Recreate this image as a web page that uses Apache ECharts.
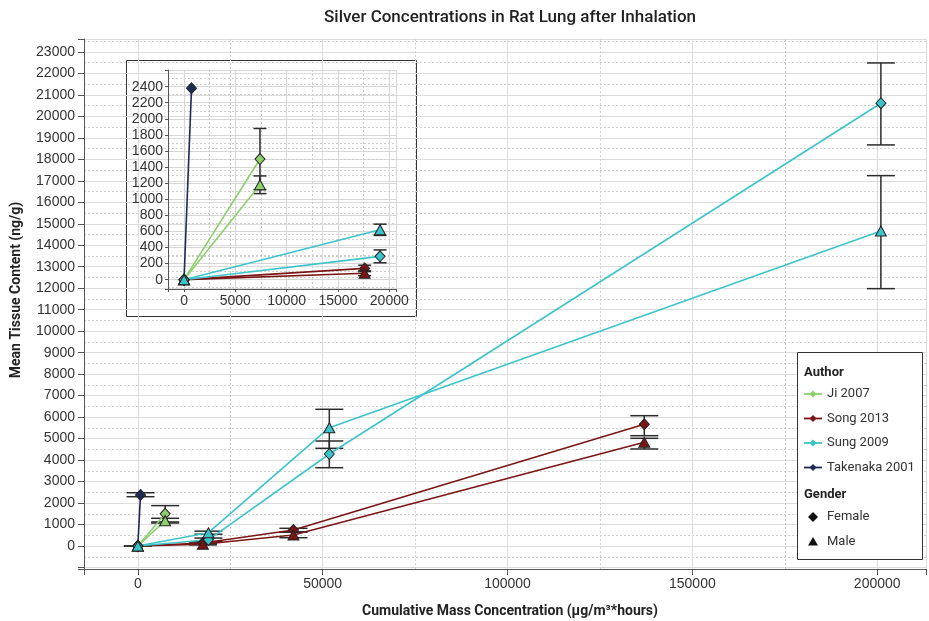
<!DOCTYPE html>
<html>
<head>
<meta charset="utf-8">
<script src="https://cdn.jsdelivr.net/npm/echarts@6/dist/echarts.min.js"></script>
<style>html,body{margin:0;padding:0;background:#fff}#c{width:929px;height:621px}</style>
</head>
<body>
<div id="c"></div>
<script>
// ---- data (x = cumulative mass concentration, y = mean tissue content) ----
const authors = ['Ji 2007', 'Song 2013', 'Sung 2009', 'Takenaka 2001'];
const genders = ['Female', 'Male'];
const takenakaFemale = [[0, 0], [730, 2380]];
const jiFemale = [[0, 0], [7400, 1500]];
const jiMale = [[0, 0], [7400, 1180]];
const songFemale = [[0, 0], [17600, 140], [42100, 745], [137000, 5665]];
const songMale = [[0, 0], [17600, 80], [42100, 512], [137000, 4827]];
const sungFemale = [[0, 0], [19100, 290], [51800, 4283], [201000, 20610]];
const sungMale = [[0, 0], [19100, 620], [51800, 5507], [201000, 14665]];
// error bars: [x, low, high]
const takenakaErr = [[730, 2295, 2480]];
const jiErr = [[7400, 1120, 1880], [7400, 1070, 1290]];
const songErr = [[17600, 100, 180], [17600, 50, 110], [42100, 660, 824], [42100, 386, 640], [137000, 5135, 6066], [137000, 4516, 5013]];
const sungErr = [[0, 0, 0], [19100, 210, 370], [19100, 550, 690], [51800, 3645, 4888], [51800, 4548, 6364], [201000, 18670, 22486], [201000, 11980, 17240]];
const mainYTicks = [0, 1000, 23000];   // labels every 1000 from 0 to 23000
const insetYTicks = [0, 200, 2400];    // labels every 200 from 0 to 2400
const mainXTicks = [0, 50000, 200000];
const insetXTicks = [0, 5000, 20000];

const colors = {'Ji 2007': '#8dcf6c', 'Song 2013': '#7b1515', 'Sung 2009': '#3cc4cb', 'Takenaka 2001': '#1d2c57'};
const FONT = 'Liberation Sans';
const TFONT = 'Roboto';

const seriesDefs = [
  {author: 'Takenaka 2001', gender: 'Female', data: takenakaFemale},
  {author: 'Ji 2007', gender: 'Female', data: jiFemale},
  {author: 'Ji 2007', gender: 'Male', data: jiMale},
  {author: 'Song 2013', gender: 'Female', data: songFemale},
  {author: 'Song 2013', gender: 'Male', data: songMale},
  {author: 'Sung 2009', gender: 'Female', data: sungFemale},
  {author: 'Sung 2009', gender: 'Male', data: sungMale}
];
const errDefs = [
  {data: takenakaErr, inset: false},
  {data: jiErr, inset: true},
  {data: songErr, inset: true},
  {data: sungErr, inset: true}
];

function errRender(capW) {
  return function (params, api) {
    const x = api.value(0), lo = api.value(1), hi = api.value(2);
    const a = api.coord([x, lo]), b = api.coord([x, hi]);
    const st = {stroke: '#2b2b2b', lineWidth: 1.5, fill: null};
    return {type: 'group', children: [
      {type: 'line', shape: {x1: a[0], y1: a[1], x2: b[0], y2: b[1]}, style: st},
      {type: 'line', shape: {x1: a[0] - capW / 2, y1: a[1], x2: a[0] + capW / 2, y2: a[1]}, style: st},
      {type: 'line', shape: {x1: b[0] - capW / 2, y1: b[1], x2: b[0] + capW / 2, y2: b[1]}, style: st}
    ]};
  };
}

const series = [];
[0, 1].forEach(function (gi) {
  errDefs.forEach(function (e) {
    if (gi === 1 && !e.inset) return;
    series.push({
      type: 'custom', xAxisIndex: gi, yAxisIndex: gi, z: 2, clip: true,
      renderItem: errRender(gi === 0 ? 28 : 13),
      encode: {x: 0, y: [1, 2]},
      data: gi === 0 ? e.data : e.data.filter(function (d) { return d[0] <= 20000 && d[2] > 0; }),
      silent: true
    });
  });
  seriesDefs.forEach(function (s) {
    series.push({
      type: 'line', name: s.author, xAxisIndex: gi, yAxisIndex: gi, z: 3,
      data: gi === 0 ? s.data : s.data.filter(function (d) { return d[0] <= 20000; }),
      symbol: s.gender === 'Female' ? 'diamond' : 'triangle',
      symbolSize: s.gender === 'Female' ? [10, 11] : [11, 10],
      showSymbol: true, animation: false,
      lineStyle: {color: colors[s.author], width: 1.6},
      itemStyle: {color: colors[s.author], borderColor: '#222', borderWidth: 1}
    });
  });
});

function axisCommon(labelFmt) {
  return {
    axisLine: {show: true, onZero: false, lineStyle: {color: '#555', width: 1}},
    axisTick: {show: true, length: 6, lineStyle: {color: '#555'}},
    axisLabel: {color: '#333', fontFamily: FONT, fontSize: 14, formatter: labelFmt, showMinLabel: true, showMaxLabel: true},
    splitLine: {show: true, lineStyle: {color: '#dcdcdc', width: 1}},
    minorTick: {show: false, splitNumber: 2},
    minorSplitLine: {show: true, lineStyle: {color: '#cfcfcf', width: 1, type: [2, 2]}}
  };
}
function stepFmt(ticks) {
  const step = ticks[1] - ticks[0];
  return function (v) { return (v >= ticks[0] && v <= ticks[2] && Math.abs(v % step) < 1e-6) ? String(v) : ''; };
}

// main grid: left 84, top 39, bottom at y=569, runs to the right edge
const mainX = Object.assign(axisCommon(stepFmt(mainXTicks)), {type: 'value', gridIndex: 0, min: -14555, max: 213200, splitNumber: 5});
mainX.axisLabel.margin = 8;
const mainY = Object.assign(axisCommon(stepFmt(mainYTicks)), {type: 'value', gridIndex: 0, min: -1070, max: 23600, splitNumber: 25});
mainY.axisLabel.margin = 9;
const insX = Object.assign(axisCommon(stepFmt(insetXTicks)), {type: 'value', gridIndex: 1, min: -1561, max: 20654, splitNumber: 5});
insX.axisTick.length = 3; insX.axisLabel.margin = 5;
const insY = Object.assign(axisCommon(stepFmt(insetYTicks)), {type: 'value', gridIndex: 1, min: -116, max: 2607, splitNumber: 13});
insY.axisTick.length = 3; insY.axisLabel.margin = 5;
insX.splitLine.lineStyle.color = '#d6d6d6';
insY.splitLine.lineStyle.color = '#d6d6d6';

// legend drawn as graphics
const legendItems = [];
const lx = 797, ly = 352;
legendItems.push({type: 'rect', shape: {x: lx + 0.5, y: ly + 0.5, width: 125, height: 207}, style: {fill: '#fff', stroke: '#333', lineWidth: 1}, z: 100});
legendItems.push({type: 'text', x: lx + 7, y: ly + 21, style: {text: 'Author', font: 'bold 13px ' + TFONT, fill: '#222', verticalAlign: 'middle'}, z: 101});
authors.forEach(function (a, i) {
  const y = ly + 42 + i * 24.5;
  legendItems.push({type: 'line', shape: {x1: lx + 7, y1: y, x2: lx + 25, y2: y}, style: {stroke: colors[a], lineWidth: 1.8}, z: 101});
  legendItems.push({type: 'polygon', shape: {points: [[lx + 16, y - 3.5], [lx + 19.5, y], [lx + 16, y + 3.5], [lx + 12.5, y]]}, style: {fill: colors[a]}, z: 102});
  legendItems.push({type: 'text', x: lx + 30, y: y, style: {text: a, font: '13px ' + TFONT, fill: '#333', verticalAlign: 'middle'}, z: 101});
});
legendItems.push({type: 'text', x: lx + 7, y: ly + 143, style: {text: 'Gender', font: 'bold 13px ' + TFONT, fill: '#222', verticalAlign: 'middle'}, z: 101});
genders.forEach(function (g, i) {
  const y = ly + 165 + i * 24.5;
  const cx = lx + 16;
  const pts = g === 'Female' ? [[cx, y - 5], [cx + 5, y], [cx, y + 5], [cx - 5, y]] : [[cx, y - 4.5], [cx + 5, y + 4], [cx - 5, y + 4]];
  legendItems.push({type: 'polygon', shape: {points: pts}, style: {fill: '#111'}, z: 102});
  legendItems.push({type: 'text', x: lx + 30, y: y, style: {text: g, font: '13px ' + TFONT, fill: '#333', verticalAlign: 'middle'}, z: 101});
});

const option = {
  animation: false,
  backgroundColor: '#fff',
  grid: [
    {left: 84, top: 39, right: 0, bottom: 52, containLabel: false},
    {left: 168, top: 70, width: 228, height: 219, containLabel: false, z: 5}
  ],
  xAxis: [mainX, insX],
  yAxis: [mainY, insY],
  series: series,
  graphic: [
    {type: 'rect', shape: {x: 126.5, y: 60.5, width: 290, height: 256}, style: {fill: '#fff', stroke: '#333', lineWidth: 1}, z: -1, zlevel: 0},
    {type: 'text', x: 510, y: 18, style: {text: 'Silver Concentrations in Rat Lung after Inhalation', font: '500 17px ' + TFONT, fill: '#222', align: 'center', verticalAlign: 'middle'}},
    {type: 'text', x: 510, y: 611, style: {text: 'Cumulative Mass Concentration (μg/m³*hours)', font: 'bold 14px ' + TFONT, fill: '#222', align: 'center', verticalAlign: 'middle'}},
    {type: 'text', x: 16, y: 290, rotation: Math.PI / 2, style: {text: 'Mean Tissue Content (ng/g)', font: 'bold 14px ' + TFONT, fill: '#222', align: 'center', verticalAlign: 'middle'}}
  ].concat(legendItems)
};

const chart = echarts.init(document.getElementById('c'), null, {renderer: 'canvas'});
chart.setOption(option);
</script>
</body>
</html>
